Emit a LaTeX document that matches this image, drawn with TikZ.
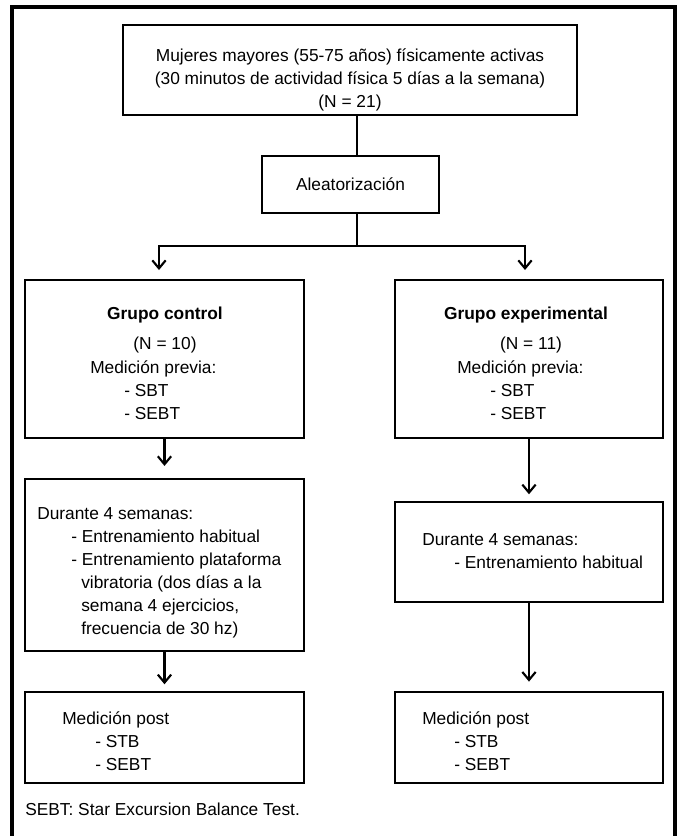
\documentclass[tikz,border=0pt]{standalone}
\usepackage{fontspec}
\setmainfont{Liberation Sans}
\usetikzlibrary{arrows.meta}

\tikzset{
    box/.style 2 args={draw, line width=1.6pt, inner sep=0pt,
        minimum width=#1*0.75pt, minimum height=#2*0.75pt},
    txt/.style={inner sep=0pt, font=\fontsize{13}{17.25}\selectfont},
    line/.style={line width=1.6pt},
    arr/.style={line width=1.6pt, -{Straight Barb[length=6pt,width=10pt]}}
}

\begin{document}
\begin{tikzpicture}[x=0.75pt, y=-0.75pt]
    \useasboundingbox (0, 0) rectangle (679, 836);
    % Outer frame (open at the bottom)
    \draw[line width=2.4pt] (12, 850) -- (12, 7) -- (675, 7) -- (675, 850);

    % Boxes
    \node[box={454}{90}] (muj) at (350, 70) {};
    \node[box={177}{57}, txt] (alea) at (350.5, 184.5) {Aleatorización};
    \node[box={279}{158}] (gctrl) at (164.5, 359) {};
    \node[box={268}{158}] (gexp) at (529, 359) {};
    \node[box={279}{172}] (durctrl) at (164.5, 565) {};
    \node[box={268}{100}] (durexp) at (529, 552) {};
    \node[box={279}{91}] (postctrl) at (164.5, 737.5) {};
    \node[box={268}{91}] (postexp) at (529, 737.5) {};

    % Texts (base of a multi-line node = baseline of its last line)
    \node[txt, align=center, anchor=base] (mujtxt) at (350, 107)
        {Mujeres mayores (55-75 años) físicamente activas\\
         (30 minutos de actividad física 5 días a la semana)\\
         (N = 21)};

    \node[txt, anchor=base] (gctrlT) at (165, 319) {\bfseries Grupo control};
    \node[txt, anchor=base] (gctrlN) at (165, 349) {(N = 10)};
    \node[txt, align=left, anchor=base west] (gctrlM) at (90, 419)
        {Medición previa:\\
         \hspace*{25.5pt}- SBT\\
         \hspace*{25.5pt}- SEBT};

    \node[txt, anchor=base] (gexpT) at (526, 319) {\bfseries Grupo experimental};
    \node[txt, anchor=base] (gexpN) at (531, 349) {(N = 11)};
    \node[txt, align=left, anchor=base west] (gexpM) at (457, 419)
        {Medición previa:\\
         \hspace*{24.75pt}- SBT\\
         \hspace*{24.75pt}- SEBT};

    \node[txt, align=left, anchor=base west] (durctrlT) at (37, 634)
        {Durante 4 semanas:\\
         \hspace*{25.5pt}- Entrenamiento habitual\\
         \hspace*{25.5pt}- Entrenamiento plataforma\\
         \hspace*{33pt}vibratoria (dos días a la\\
         \hspace*{33pt}semana 4 ejercicios,\\
         \hspace*{33pt}frecuencia de 30 hz)};

    \node[txt, align=left, anchor=base west] (durexpT) at (422, 568)
        {Durante 4 semanas:\\
         \hspace*{24pt}- Entrenamiento habitual};

    \node[txt, align=left, anchor=base west] (postctrlT) at (62, 770)
        {Medición post\\
         \hspace*{24.75pt}- STB\\
         \hspace*{24.75pt}- SEBT};

    \node[txt, align=left, anchor=base west] (postexpT) at (422, 770)
        {Medición post\\
         \hspace*{24pt}- STB\\
         \hspace*{24pt}- SEBT};

    \node[txt, anchor=base west] (nota) at (25, 815) {SEBT: Star Excursion Balance Test.};

    % Connectors
    \coordinate (split) at (357, 246);
    \coordinate (tipL) at (159, 270);
    \coordinate (tipR) at (525, 270);
    \draw[line] (muj.south -| split) -- (alea.north -| split);
    \draw[line] (alea.south -| split) -- (split);
    \draw[arr] (split) -| (tipL);
    \draw[arr] (split) -| (tipR);

    \draw[arr] (gctrl.south) -- ([yshift=9pt]durctrl.north);
    \draw[arr] (durctrl.south) -- ([yshift=5pt]postctrl.north);
    \draw[arr] (gexp.south) -- ([yshift=5pt]durexp.north);
    \draw[arr] (durexp.south) -- ([yshift=7pt]postexp.north);
\end{tikzpicture}
\end{document}
